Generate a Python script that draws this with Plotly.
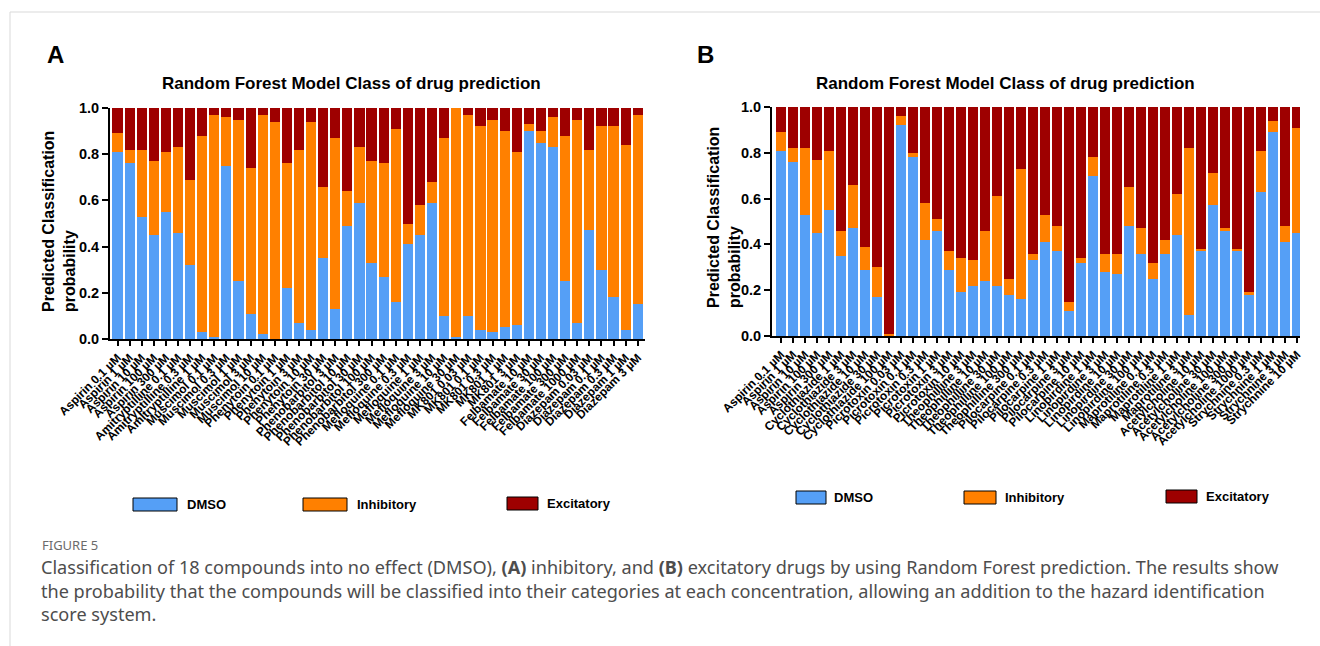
import plotly.graph_objects as go

W, H = 1320, 646

# ---------------- Panel A data ----------------
labels_a = [
    "Aspirin 0.1 µM", "Aspirin 1 µM", "Aspirin 10 µM", "Aspirin 100 µM", "Aspirin 300 µM",
    "Amitryptilline 0.1 µM", "Amitryptilline 0.3 µM", "Amitryptilline 1 µM",
    "Muscimol 0.1 µM", "Muscimol 0.3 µM", "Muscimol 1 µM", "Muscimol 3 µM", "Muscimol 10 µM",
    "Phenytoin 0.1 µM", "Phenytoin 1 µM", "Phenytoin 3 µM", "Phenytoin 10 µM", "Phenytoin 30 µM",
    "Phenobarbitol 3 µM", "Phenobarbitol 10 µM", "Phenobarbitol 30 µM", "Phenobarbitol 100 µM", "Phenobarbitol 300 µM",
    "Mefloquine 0.1 µM", "Mefloquine 0.3 µM", "Mefloquine 1 µM", "Mefloquine 3 µM", "Mefloquine 10 µM", "Mefloquine 30 µM",
    "MK801 0.03 µM", "MK801 0.1 µM", "MK801 0.3 µM", "MK801 1 µM", "MK801 3 µM",
    "Felbamate 10 µM", "Felbamate 30 µM", "Felbamate 100 µM", "Felbamate 300 µM", "Felbamate 1000 µM",
    "Diazepam 0.03 µM", "Diazepam 0.1 µM", "Diazepam 0.3 µM", "Diazepam 1 µM", "Diazepam 3 µM",
]
dmso_a = [0.81, 0.76, 0.53, 0.45, 0.55, 0.46, 0.32, 0.03, 0.01, 0.75, 0.25, 0.11, 0.02, 0.00,
          0.22, 0.07, 0.04, 0.35, 0.13, 0.49, 0.59, 0.33, 0.27, 0.16, 0.41, 0.45, 0.59, 0.10,
          0.01, 0.10, 0.04, 0.03, 0.05, 0.06, 0.90, 0.85, 0.83, 0.25, 0.07, 0.47, 0.30, 0.18,
          0.04, 0.15]
inhib_a = [0.08, 0.06, 0.29, 0.32, 0.26, 0.37, 0.37, 0.85, 0.96, 0.21, 0.70, 0.63, 0.95, 0.94,
           0.54, 0.75, 0.90, 0.31, 0.74, 0.15, 0.24, 0.44, 0.49, 0.75, 0.09, 0.13, 0.09, 0.77,
           0.99, 0.87, 0.88, 0.92, 0.85, 0.75, 0.03, 0.05, 0.13, 0.63, 0.88, 0.35, 0.62, 0.74,
           0.80, 0.82]
excit_a = [0.11, 0.18, 0.18, 0.23, 0.19, 0.17, 0.31, 0.12, 0.03, 0.04, 0.05, 0.26, 0.03, 0.06,
           0.24, 0.18, 0.06, 0.34, 0.13, 0.36, 0.17, 0.23, 0.24, 0.09, 0.50, 0.42, 0.32, 0.13,
           0.00, 0.03, 0.08, 0.05, 0.10, 0.19, 0.07, 0.10, 0.04, 0.12, 0.05, 0.18, 0.08, 0.08,
           0.16, 0.03]

# ---------------- Panel B data ----------------
labels_b = [
    "Aspirin 0.1 µM", "Aspirin 1 µM", "Aspirin 10 µM", "Aspirin 100 µM", "Aspirin 300 µM",
    "Cyclothiazide 1 µM", "Cyclothiazide 3 µM", "Cyclothiazide 10 µM", "Cyclothiazide 30 µM", "Cyclothiazide 100 µM",
    "Picrotoxin 0.03 µM", "Picrotoxin 0.1 µM", "Picrotoxin 0.3 µM", "Picrotoxin 1 µM", "Picrotoxin 3 µM", "Picrotoxin 10 µM",
    "Theophilline 3 µM", "Theophilline 10 µM", "Theophilline 30 µM", "Theophilline 100 µM", "Theophilline 300 µM",
    "Pilocarpine 0.1 µM", "Pilocarpine 0.3 µM", "Pilocarpine 1 µM", "Pilocarpine 3 µM", "Pilocarpine 10 µM",
    "Linopirdine 1 µM", "Linopirdine 3 µM", "Linopirdine 10 µM", "Linopirdine 30 µM", "Linopirdine 100 µM",
    "Maprotiline 0.1 µM", "Maprotiline 0.3 µM", "Maprotiline 1 µM", "Maprotiline 3 µM",
    "Acetylcholine 10 µM", "Acetylcholine 30 µM", "Acetylcholine 100 µM", "Acetylcholine 300 µM", "Acetylcholine 1000 µM",
    "Strychnine 0.3 µM", "Strychnine 1 µM", "Strychnine 3 µM", "Strychnine 10 µM",
]
dmso_b = [0.81, 0.76, 0.53, 0.45, 0.55, 0.35, 0.47, 0.29, 0.17, 0.00, 0.92, 0.78, 0.42, 0.46,
          0.29, 0.19, 0.22, 0.24, 0.22, 0.18, 0.16, 0.33, 0.41, 0.37, 0.11, 0.32, 0.70, 0.28,
          0.27, 0.48, 0.36, 0.25, 0.36, 0.44, 0.09, 0.37, 0.57, 0.46, 0.37, 0.18, 0.63, 0.89,
          0.41, 0.45]
inhib_b = [0.08, 0.06, 0.29, 0.32, 0.26, 0.11, 0.19, 0.10, 0.13, 0.01, 0.04, 0.02, 0.16, 0.05,
           0.08, 0.15, 0.11, 0.22, 0.39, 0.07, 0.57, 0.03, 0.12, 0.11, 0.04, 0.02, 0.08, 0.08,
           0.09, 0.17, 0.11, 0.07, 0.06, 0.18, 0.73, 0.01, 0.14, 0.01, 0.01, 0.01, 0.18, 0.05,
           0.07, 0.46]
excit_b = [0.11, 0.18, 0.18, 0.23, 0.19, 0.54, 0.34, 0.61, 0.70, 0.99, 0.04, 0.20, 0.42, 0.49,
           0.63, 0.66, 0.67, 0.54, 0.39, 0.75, 0.27, 0.64, 0.47, 0.52, 0.85, 0.66, 0.22, 0.64,
           0.64, 0.35, 0.53, 0.68, 0.58, 0.38, 0.18, 0.62, 0.29, 0.53, 0.62, 0.81, 0.19, 0.06,
           0.52, 0.09]

series_names = ["DMSO", "Inhibitory", "Excitatory"]
colors = ["#559FF6", "#FF8000", "#9E0000"]
y_ticks = [0.0, 0.2, 0.4, 0.6, 0.8, 1.0]
y_ticktext = ["0.0", "0.2", "0.4", "0.6", "0.8", "1.0"]

FONT = "Arial, Liberation Sans, sans-serif"


def X(px):
    return px / W


def Y(py):
    return 1 - py / H


fig = go.Figure()
for name, vals, col in zip(series_names, [dmso_a, inhib_a, excit_a], colors):
    fig.add_trace(go.Bar(x=list(range(len(labels_a))), y=vals, name=name,
                         marker=dict(color=col, line=dict(width=0)),
                         xaxis="x", yaxis="y", showlegend=False))
for name, vals, col in zip(series_names, [dmso_b, inhib_b, excit_b], colors):
    fig.add_trace(go.Bar(x=list(range(len(labels_b))), y=vals, name=name,
                         marker=dict(color=col, line=dict(width=0)),
                         xaxis="x2", yaxis="y2", showlegend=False))

xcommon = dict(showline=True, linecolor="black", linewidth=2, ticks="outside",
               ticklen=5, tickwidth=1.5, tickcolor="black", tickangle=-45,
               tickfont=dict(family=FONT, size=12, color="black", weight="bold"),
               showgrid=False, zeroline=False, automargin=False)
ycommon = dict(showline=True, linecolor="black", linewidth=2, ticks="outside",
               ticklen=6, tickwidth=2, tickcolor="black", tickvals=y_ticks,
               ticktext=y_ticktext, range=[0, 1.0],
               tickfont=dict(family=FONT, size=14.5, color="black", weight="bold"),
               showgrid=False, zeroline=False, automargin=False)

fig.update_layout(
    width=W, height=H, margin=dict(l=0, r=0, t=0, b=0),
    paper_bgcolor="white", plot_bgcolor="white",
    barmode="stack", bargap=0.16,
    xaxis=dict(domain=[X(110), X(645)], range=[-0.62, 43.6],
               tickvals=list(range(len(labels_a))), ticktext=labels_a, anchor="y", **xcommon),
    yaxis=dict(domain=[Y(339), Y(108)], anchor="x", **ycommon),
    xaxis2=dict(domain=[X(772), X(1300)], range=[-0.75, 43.25],
                tickvals=list(range(len(labels_b))), ticktext=labels_b, anchor="y2", **xcommon),
    yaxis2=dict(domain=[Y(336), Y(107)], anchor="x2", **ycommon),
)

ann = []
shapes = []


def text(x, y, s, size, xanchor="center", color="black", weight="bold", angle=0, family=FONT, yanchor="middle"):
    ann.append(dict(x=X(x), y=Y(y), xref="paper", yref="paper", text=s, showarrow=False,
                    xanchor=xanchor, yanchor=yanchor, textangle=angle, align="left",
                    font=dict(family=family, size=size, color=color, weight=weight)))


# panel letters and titles
text(55, 55, "A", 24)
text(706, 55, "B", 24)
text(351, 84, "Random Forest Model Class of drug prediction", 17)
text(1005, 83, "Random Forest Model Class of drug prediction", 17)
# y-axis titles
text(59, 222, "Predicted Classification<br>probability", 16, angle=-90)
text(724, 218, "Predicted Classification<br>probability", 16, angle=-90)


# legends
def legend_item(x0, x1, y0, y1, color, label, tx):
    shapes.append(dict(type="rect", xref="paper", yref="paper", x0=X(x0), x1=X(x1),
                       y0=Y(y1), y1=Y(y0), fillcolor=color, line=dict(color="black", width=1)))
    text(tx, (y0 + y1) / 2, label, 13, xanchor="left")


legend_item(133, 177, 498, 511, colors[0], series_names[0], 185)
legend_item(303, 347, 498, 511, colors[1], series_names[1], 355)
legend_item(507, 538, 497, 510, colors[2], series_names[2], 545)
legend_item(796, 826, 491, 504, colors[0], series_names[0], 832)
legend_item(964, 996, 491, 504, colors[1], series_names[1], 1003)
legend_item(1166, 1197, 490, 503, colors[2], series_names[2], 1204)

# frame lines
shapes.append(dict(type="line", xref="paper", yref="paper", x0=X(10), x1=X(1320), y0=Y(12), y1=Y(12),
                   line=dict(color="#D9D9D9", width=1)))
shapes.append(dict(type="line", xref="paper", yref="paper", x0=X(10), x1=X(10), y0=Y(12), y1=Y(646),
                   line=dict(color="#D9D9D9", width=1)))

# caption
CAP = "Noto Sans, Open Sans, sans-serif"
text(40, 545, "FIGURE 5", 13, xanchor="left", color="#6b6b6b", weight="normal", family=CAP)
cap_lines = [
    "Classification of 18 compounds into no effect (DMSO), <b>(A)</b> inhibitory, and <b>(B)</b> excitatory drugs by using Random Forest prediction. The results show",
    "the probability that the compounds will be classified into their categories at each concentration, allowing an addition to the hazard identification",
    "score system.",
]
for i, line in enumerate(cap_lines):
    text(39, 567 + i * 23.5, line, 18.1, xanchor="left", color="#4d4d4d", weight="normal", family=CAP)

fig.update_layout(annotations=ann, shapes=shapes)
fig.write_html("out.html")
